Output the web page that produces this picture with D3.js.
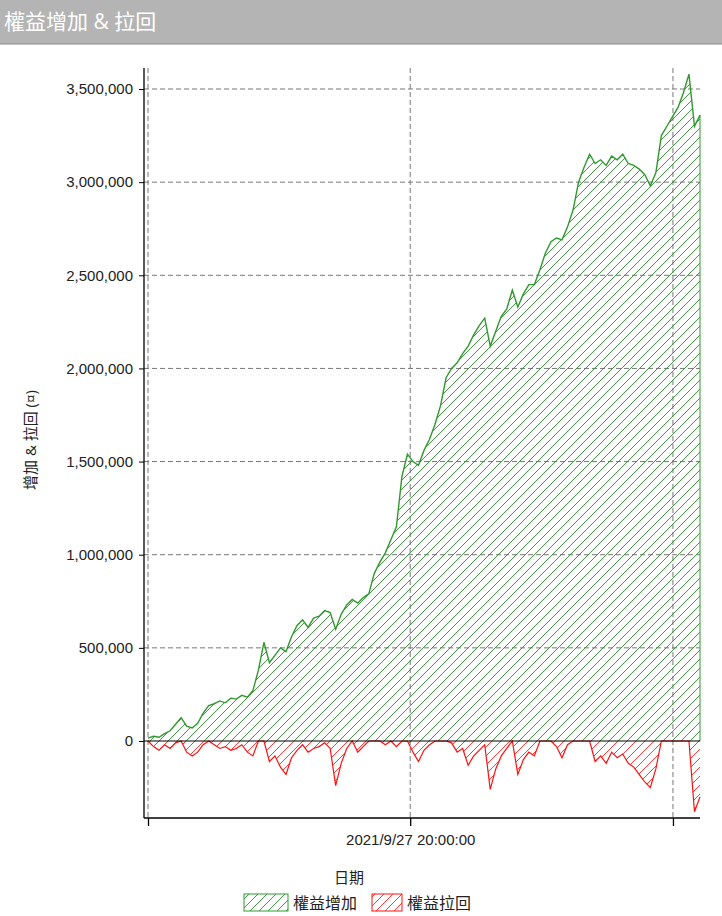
<!DOCTYPE html>
<html><head><meta charset="utf-8">
<script src="https://cdn.jsdelivr.net/npm/d3@7"></script>
<style>body{margin:0;background:#fff;font-family:"Open Sans","Noto Sans CJK TC",sans-serif}</style>
</head><body><svg id="c" width="722" height="916"></svg>
<script>
const title = "權益增加 & 拉回";
const yLabel = "增加 & 拉回 (¤)";
const xLabel = "日期";
const seriesNames = ["權益增加", "權益拉回"];
const yTicks = [0,500000,1000000,1500000,2000000,2500000,3000000,3500000];
const xTickIdx = [0, 47.5, 95.1];
const xTickLabels = ["", "2021/9/27 20:00:00", ""];
// equity (thousands)
const equity = [15,25,20,40,55,90,125,80,70,95,150,190,200,215,205,230,225,245,235,270,
380,530,420,460,500,480,560,620,650,610,660,670,700,690,600,680,730,760,740,770,
790,900,960,1010,1080,1150,1420,1540,1500,1480,1560,1620,1700,1800,1950,2000,2030,2080,2120,2180,
2230,2270,2120,2200,2280,2320,2420,2330,2400,2450,2450,2530,2620,2680,2700,2690,2760,2850,3000,3080,
3150,3100,3120,3090,3140,3120,3150,3100,3090,3070,3040,2980,3050,3250,3300,3350,3400,3480,3580,3300,3360];
// drawdown (thousands)
const drawdown = [0,-30,-50,-20,-40,-10,0,-60,-80,-60,-20,0,-20,-40,-30,-50,-40,-20,-60,-80,
0,0,-110,-80,-140,-180,-90,-50,-20,-60,-40,-30,-10,-40,-240,-120,-40,0,-60,-30,
0,0,0,-20,0,-30,0,0,-60,-110,-50,-20,0,0,0,-10,-60,-40,-130,-80,
-50,-20,-260,-150,-80,-40,0,-180,-100,-60,-80,0,0,0,-30,-90,-20,0,0,0,
0,-110,-80,-120,-60,-90,-70,-120,-140,-180,-220,-250,-150,0,0,0,0,0,0,-380,-300];

const svg = d3.select("#c");
svg.append("rect").attr("x",0).attr("y",0).attr("width",722).attr("height",44).attr("fill","#b4b4b4");
svg.append("line").attr("x1",0).attr("x2",722).attr("y1",44).attr("y2",44).attr("stroke","#888");
svg.append("text").attr("x",4).attr("y",29).attr("fill","#fff").attr("font-size",21).text(title);

const n = Math.min(equity.length, drawdown.length);
const x = d3.scaleLinear().domain([0, n-1]).range([148, 700]);
const y = d3.scaleLinear().domain([0, 3500000]).range([741, 89]);
const yBottom = 818, yTop = 68;

const defs = svg.append("defs");
function hatch(id, color){
  const p = defs.append("pattern").attr("id",id).attr("patternUnits","userSpaceOnUse")
    .attr("width",9).attr("height",9);
  p.append("path").attr("d","M-1,10 L10,-1 M-2,2 L2,-2 M7,11 L11,7").attr("stroke",color).attr("stroke-width",0.9);
}
hatch("hg","#2e8b2e"); hatch("hr","#ff2020");

const g = svg.append("g");
yTicks.filter(t=>t>0).forEach(t=>{
  g.append("line").attr("x1",144).attr("x2",700).attr("y1",y(t)).attr("y2",y(t))
   .attr("stroke","#777").attr("stroke-dasharray","5,3");
});
xTickIdx.forEach(t=>{
  g.append("line").attr("x1",x(t)).attr("x2",x(t)).attr("y1",yTop).attr("y2",yBottom)
   .attr("stroke","#777").attr("stroke-dasharray","5,3");
});

const data = d3.range(n).map(i=>({i, e: equity[i]*1000, d: drawdown[i]*1000}));
const cv = d3.curveLinear;
const areaE = d3.area().curve(cv).x(d=>x(d.i)).y0(y(0)).y1(d=>y(d.e));
const areaD = d3.area().curve(cv).x(d=>x(d.i)).y0(y(0)).y1(d=>y(d.d));
const lineE = d3.line().curve(cv).x(d=>x(d.i)).y(d=>y(d.e));
const lineD = d3.line().curve(cv).x(d=>x(d.i)).y(d=>y(d.d));
svg.append("path").attr("d",areaE(data)).attr("fill","url(#hg)");
svg.append("path").attr("d",areaD(data)).attr("fill","url(#hr)");
svg.append("path").attr("d",lineE(data)).attr("fill","none").attr("stroke","#2e9a2e").attr("stroke-width",1.4);
svg.append("path").attr("d",lineD(data)).attr("fill","none").attr("stroke","#ff1010").attr("stroke-width",1.2);
svg.append("line").attr("x1",x(n-1)).attr("x2",x(n-1)).attr("y1",y(equity[n-1]*1000)).attr("y2",y(0)).attr("stroke","#2e9a2e");

svg.append("line").attr("x1",144).attr("x2",700).attr("y1",y(0)).attr("y2",y(0)).attr("stroke","#000").attr("stroke-width",1.2);

const yAxis = d3.axisLeft(y).tickValues(yTicks).tickSize(5).tickFormat(d3.format(","));
const ya = svg.append("g").attr("transform","translate(144,0)").call(yAxis);
ya.select(".domain").remove();
ya.selectAll("text").attr("font-size",15).attr("fill","#222").attr("dx",-3);
svg.append("line").attr("x1",144).attr("x2",144).attr("y1",yTop).attr("y2",yBottom).attr("stroke","#000").attr("stroke-width",1.3);
svg.append("line").attr("x1",144).attr("x2",700).attr("y1",yBottom).attr("y2",yBottom).attr("stroke","#000").attr("stroke-width",1.3);
const xAxis = d3.axisBottom(x).tickValues(xTickIdx).tickSize(8).tickFormat((d,i)=>xTickLabels[i]);
const xa = svg.append("g").attr("transform",`translate(0,${yBottom})`).call(xAxis);
xa.select(".domain").remove();
xa.selectAll("line").attr("stroke-width",1.3);
xa.selectAll("text").attr("font-size",15).attr("fill","#222").attr("dy",16);

svg.append("text").attr("x",349).attr("y",883).attr("text-anchor","middle").attr("font-size",15).attr("fill","#222").text(xLabel);
svg.append("text").attr("transform","translate(36,440) rotate(-90)").attr("text-anchor","middle").attr("font-size",15).attr("fill","#222").text(yLabel);

const leg = [{c:"url(#hg)",s:"#2e9a2e",x:244,w:44},{c:"url(#hr)",s:"#ff1010",x:372,w:30}];
leg.forEach((l,i)=>{
  svg.append("rect").attr("x",l.x).attr("y",894).attr("width",l.w).attr("height",17).attr("fill",l.c).attr("stroke",l.s);
  svg.append("text").attr("x",l.x+l.w+5).attr("y",909).attr("font-size",16).attr("fill","#222").text(seriesNames[i]);
});
</script></body></html>
